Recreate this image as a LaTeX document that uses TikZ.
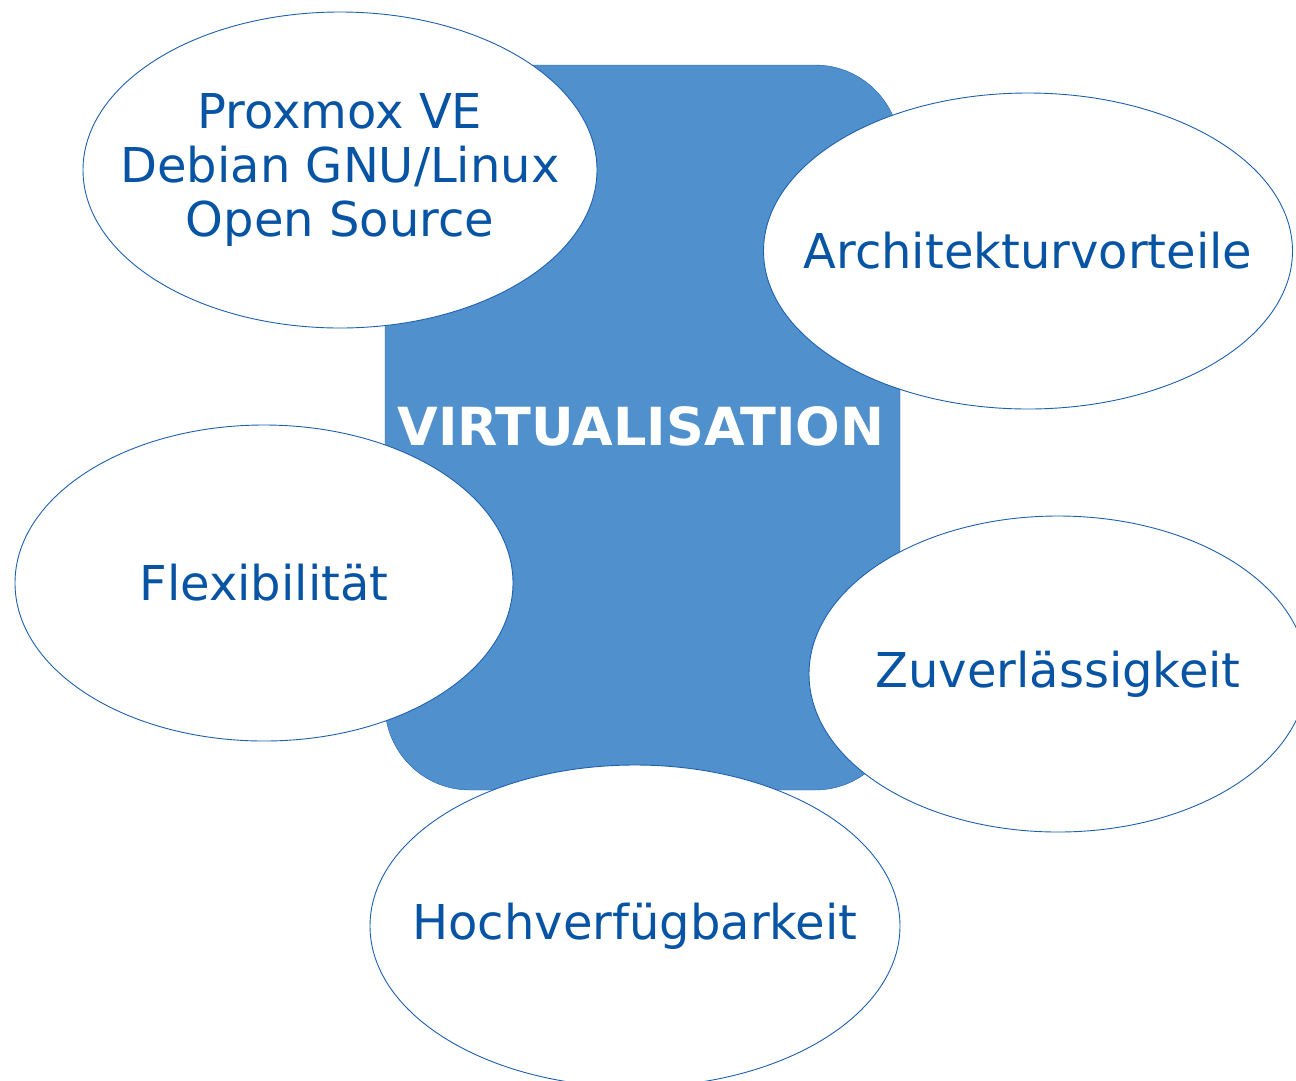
\documentclass[tikz,border=0pt]{standalone}
\usepackage{fontspec}
\setmainfont{DejaVu Sans}
\usetikzlibrary{shapes.geometric}
\definecolor{virtblau}{RGB}{80,144,204}
\definecolor{schrift}{RGB}{8,84,164}
\definecolor{rand}{RGB}{30,96,176}
\tikzset{blase/.style={ellipse, draw=rand, fill=white, line width=0.9pt, inner sep=-90pt,
    text=schrift, align=center, font=\fontsize{48}{54}\selectfont}}

\begin{document}
\begin{tikzpicture}[x=1pt, y=-1pt]
  \useasboundingbox (0,0) rectangle (1296,1080);
  \clip (0,0) rectangle (1296,1080);
  \draw[rand, fill=virtblau, rounded corners=85pt] (385,65) rectangle (900,790);
  \node[blase, minimum width=514pt, minimum height=316pt] (proxmox) at (340,170) {Proxmox VE\\Debian GNU/Linux\\Open Source};
  \node[blase, minimum width=529pt, minimum height=316pt] (archi) at (1028,251) {Architekturvorteile};
  \node[blase, minimum width=498pt, minimum height=316pt] (flexi) at (264,583) {Flexibilität};
  \node[blase, minimum width=498pt, minimum height=316pt] (zuver) at (1058,674) {Zuverlässigkeit};
  \node[blase, minimum width=530pt, minimum height=322pt] (hoch) at (635,926) {Hochverfügbarkeit};
  \node[text=white, font=\bfseries\fontsize{52.5}{60}\selectfont] (virt) at (641,426) {VIRTUALISATION};
\end{tikzpicture}
\end{document}
